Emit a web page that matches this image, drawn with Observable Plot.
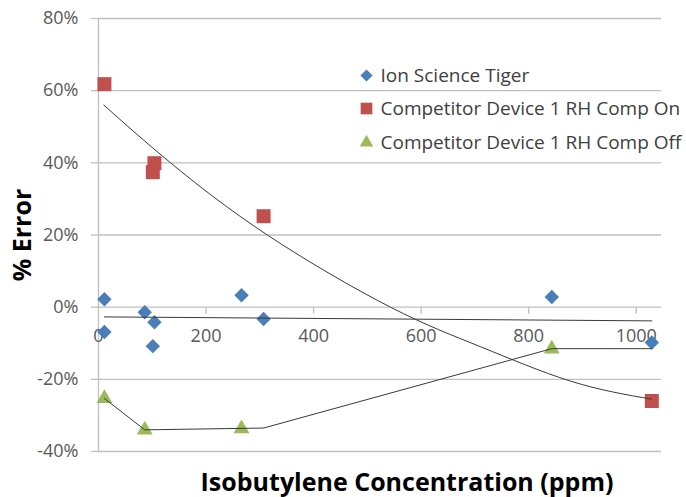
<!DOCTYPE html>
<html>
<head>
<meta charset="utf-8">
<script src="https://cdn.jsdelivr.net/npm/d3@7"></script>
<script src="https://cdn.jsdelivr.net/npm/@observablehq/plot@0.6"></script>
<style>
  html, body { margin: 0; padding: 0; background: #ffffff; }
  #chart { width: 686px; height: 497px; }
</style>
</head>
<body>
<div id="chart"></div>
<script>
// ---- data ----
const seriesNames = ["Ion Science Tiger", "Competitor Device 1 RH Comp On", "Competitor Device 1 RH Comp Off"];
const seriesColors = ["#4a7ebb", "#c0504d", "#9bbb59"];
const seriesSymbols = ["diamond2", "square", "triangle"];

const tigerX = [11, 11, 86, 104, 101, 266, 307, 843, 1029];
const tigerY = [2.2, -6.9, -1.4, -4.2, -10.8, 3.3, -3.3, 2.8, -9.8];

const compOnX = [11, 104, 101, 307, 1029];
const compOnY = [61.8, 39.9, 37.4, 25.2, -26.0];

const compOffX = [11, 86, 266, 843];
const compOffY = [-25.3, -34.0, -33.7, -11.6];

// trend lines
const tigerTrendX = [11, 1029];
const tigerTrendY = [-2.7, -3.8];
const compOnTrendX = [10, 134, 314, 543, 711, 878, 1029];
const compOnTrendY = [56, 40, 20, 0, -11, -20.5, -25.5];
const compOffTrendX = [11, 86, 307, 843, 1029];
const compOffTrendY = [-25.3, -34.0, -33.5, -11.5, -11.5];

const xTicks = [0, 200, 400, 600, 800, 1000];
const yTicks = [-40, -20, 0, 20, 40, 60, 80];
const xDomain = [0, 1047];
const yDomain = [-40, 80];
const xTitle = "Isobutylene Concentration (ppm)";
const yTitle = "% Error";

// ---- build ----
const zip = (xs, ys) => xs.map((x, i) => ({x, y: ys[i]}));
const pts = [zip(tigerX, tigerY), zip(compOnX, compOnY), zip(compOffX, compOffY)];
const trends = [zip(tigerTrendX, tigerTrendY), zip(compOnTrendX, compOnTrendY), zip(compOffTrendX, compOffTrendY)];
const trendCurves = ["linear", "natural", "linear"];
const markR = [6.5, 7.9, 5.9];
const legendR = [5.5, 6.6, 5.0];
const legendDy = [57, 90, 124];

const gridColor = "#bfbfbf";
const tickColor = "#595959";

const marks = [
  Plot.gridY(yTicks, {stroke: gridColor, strokeOpacity: 1, strokeWidth: 1.3}),
  Plot.ruleX([0], {stroke: gridColor, strokeWidth: 1.3}),
  Plot.axisY(yTicks, {
    tickSize: 7, tickPadding: 13, stroke: gridColor, strokeWidth: 1.3,
    fill: tickColor, fontSize: 18, tickFormat: d => d + "%", label: null
  }),
  Plot.ruleX(xTicks.filter(d => d > 0), {x: d => d, y1: 0, y2: 0, insetBottom: -7, stroke: gridColor, strokeWidth: 1.3}),
  Plot.text(xTicks, {x: d => d, y: 0, dy: 29, text: d => String(d), fill: tickColor, fontSize: 18, lineAnchor: "middle"}),
  Plot.text([yTitle], {frameAnchor: "left", dx: -76, rotate: -90, textAnchor: "middle", fontSize: 25, fontWeight: "bold", fill: "#000", lineAnchor: "middle"}),
  Plot.text([xTitle], {frameAnchor: "bottom", dx: 27, dy: 39, textAnchor: "middle", fontSize: 25, fontWeight: "bold", fill: "#000", lineAnchor: "bottom"})
];

pts.forEach((p, i) => {
  marks.push(Plot.dot(p, {x: "x", y: "y", symbol: seriesSymbols[i], fill: seriesColors[i], r: markR[i]}));
});
trends.forEach((t, i) => {
  marks.push(Plot.line(t, {x: "x", y: "y", curve: trendCurves[i], stroke: "#3a3a3a", strokeWidth: 1}));
});
seriesNames.forEach((name, i) => {
  marks.push(Plot.dot([name], {frameAnchor: "top-left", dx: 268, dy: legendDy[i], symbol: seriesSymbols[i], fill: seriesColors[i], r: legendR[i]}));
  marks.push(Plot.text([name], {frameAnchor: "top-left", dx: 282, dy: legendDy[i], text: d => d, textAnchor: "start", lineAnchor: "middle", fontSize: 19, fill: "#404040"}));
});

const chart = Plot.plot({
  width: 686,
  height: 497,
  marginLeft: 98,
  marginRight: 25,
  marginTop: 18,
  marginBottom: 46,
  style: {fontFamily: "'Open Sans', sans-serif", background: "#ffffff", color: "#404040"},
  x: {domain: xDomain, axis: null},
  y: {domain: yDomain, axis: null},
  marks
});
document.getElementById("chart").appendChild(chart);
</script>
</body>
</html>
